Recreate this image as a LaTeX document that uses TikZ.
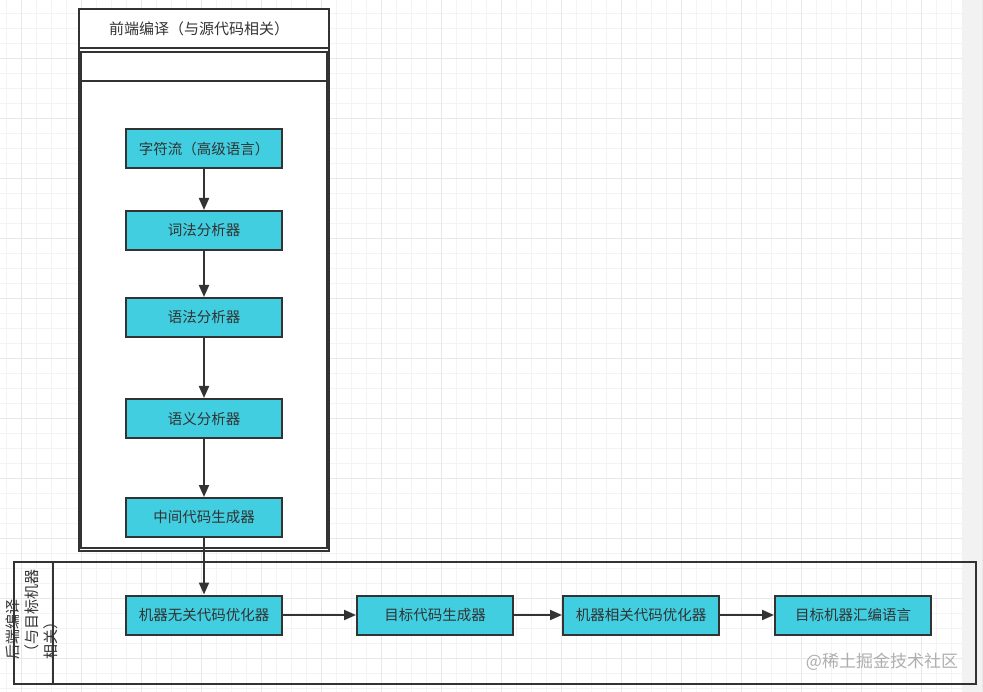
\documentclass[tikz,border=0pt]{standalone}
\usepackage{fontspec}
\setmainfont{Noto Sans CJK SC}
\usetikzlibrary{arrows.meta}
\definecolor{boxfill}{RGB}{64,206,224}
\definecolor{ink}{RGB}{51,51,51}
\definecolor{gridminor}{RGB}{243,243,243}
\definecolor{gridmajor}{RGB}{232,232,232}
\definecolor{strip}{RGB}{242,242,242}
\definecolor{wm}{RGB}{175,175,175}
\tikzset{
  stage/.style={draw=ink, line width=2pt, fill=boxfill, minimum width=156pt, minimum height=39pt,
    inner sep=0pt, text=ink, font=\fontsize{14.5}{17}\selectfont},
  frame/.style={draw=ink, line width=2pt, inner sep=0pt},
  flow/.style={draw=ink, line width=2pt, -{Triangle[length=12pt,width=10pt]}},
  lbl/.style={text=ink, font=\fontsize{15}{19}\selectfont, inner sep=0pt}
}
\begin{document}
\begin{tikzpicture}[x=1pt,y=-1pt]
\useasboundingbox (0,0) rectangle (983,692);
\fill[white] (0,0) rectangle (983,692);
% grid
\foreach \k in {0,...,64} {
  \pgfmathsetmacro{\gx}{6.7+15*\k}
  \draw[gridminor, line width=0.8pt] (\gx,0) -- (\gx,692);
}
\foreach \k in {0,...,46} {
  \pgfmathsetmacro{\gy}{13+15*\k}
  \draw[gridminor, line width=0.8pt] (0,\gy) -- (983,\gy);
}
\foreach \k in {0,...,16} {
  \pgfmathsetmacro{\gx}{21.7+60*\k}
  \draw[gridmajor, line width=0.9pt] (\gx,0) -- (\gx,692);
}
\foreach \k in {0,...,11} {
  \pgfmathsetmacro{\gy}{58+60*\k}
  \draw[gridmajor, line width=0.9pt] (0,\gy) -- (983,\gy);
}
\fill[strip] (962,0) rectangle (983,692);
\draw[gridmajor, line width=1pt] (982,0) -- (982,692);

% front-end container
\node[frame, fill=white, minimum width=250pt, minimum height=542pt] (front) at (204,280) {};
\draw[ink, line width=1.4pt] (81,52) rectangle (327,548);
\draw[ink, line width=1.6pt] (79,48) -- (329,48);
\draw[ink, line width=1.6pt] (79,81) -- (329,81);
\node[lbl] (fronttitle) at (199,29) {前端编译（与源代码相关）};

% back-end container
\node[frame, minimum width=962pt, minimum height=122pt] (back) at (495,623) {};
\draw[ink, line width=2pt] (53,562) -- (53,684);
\node[lbl, rotate=90, align=left] (backtitle) at (32,614) {后端编译\\（与目标机器\\相关）};

% front-end stages
\node[stage] (s1) at (204,148.5) {字符流（高级语言）};
\node[stage] (s2) at (204,230.5) {词法分析器};
\node[stage] (s3) at (204,317.5) {语法分析器};
\node[stage] (s4) at (204,418.5) {语义分析器};
\node[stage] (s5) at (204,517.5) {中间代码生成器};

% back-end stages
\node[stage] (b1) at (204,615) {机器无关代码优化器};
\node[stage] (b2) at (435,615) {目标代码生成器};
\node[stage] (b3) at (641,615) {机器相关代码优化器};
\node[stage] (b4) at (853,615) {目标机器汇编语言};

\draw[flow] (s1) -- (s2);
\draw[flow] (s2) -- (s3);
\draw[flow] (s3) -- (s4);
\draw[flow] (s4) -- (s5);
\draw[flow] (s5) -- (b1);
\draw[flow] (b1) -- (b2);
\draw[flow] (b2) -- (b3);
\draw[flow] (b3) -- (b4);

% watermark
\node[text=wm, font=\fontsize{17}{20}\selectfont, inner sep=0pt] (wmark) at (882,662) {@稀土掘金技术社区};
\end{tikzpicture}
\end{document}
